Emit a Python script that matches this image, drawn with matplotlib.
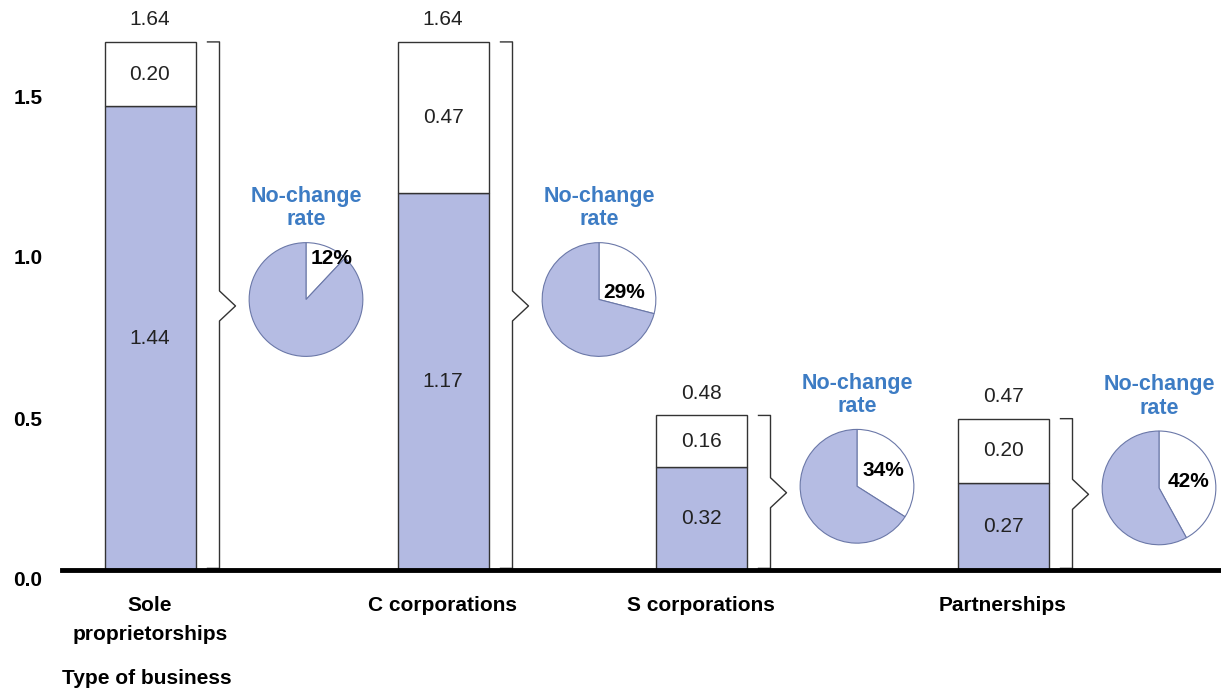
import numpy as np
import matplotlib.pyplot as plt
import matplotlib.transforms as mtransforms

plt.rcParams['font.family'] = ['Liberation Sans', 'DejaVu Sans']

# data
categories = ["Sole\nproprietorships", "C corporations", "S corporations", "Partnerships"]
base_vals = [1.44, 1.17, 0.32, 0.27]
top_vals = [0.20, 0.47, 0.16, 0.20]
totals = [1.64, 1.64, 0.48, 0.47]
no_change = [12, 29, 34, 42]

# layout (x in pixel-like units from axes left)
xpos = [88, 381, 639, 941]
bar_w = 91
pie_dx = 156
pie_r = 58
lbl_off = [(0.45, 0.72), (0.45, 0.12), (0.47, 0.28), (0.52, 0.12)]

bar_col = '#b3bae2'
pie_col = '#b5bce3'
blue_txt = '#3d7cc4'

fig = plt.figure(figsize=(12.21, 6.89), dpi=100)
ppu = 322.0  # pixels per unit on y
ax = fig.add_axes([62/1221, 119/689, 1159/1221, 1.75*ppu/689])
ax.set_xlim(0, 1159)
ax.set_ylim(0, 1.75)

ax.bar(xpos, base_vals, width=bar_w, color=bar_col, edgecolor='#333333', linewidth=1)
ax.bar(xpos, top_vals, width=bar_w, bottom=base_vals, color='white', edgecolor='#333333', linewidth=1)

for i in range(len(xpos)):
    x = xpos[i]
    ax.text(x, base_vals[i]/2, "%.2f" % base_vals[i], ha='center', va='center', fontsize=15, color='#222222')
    ax.text(x, base_vals[i] + top_vals[i]/2, "%.2f" % top_vals[i], ha='center', va='center', fontsize=15, color='#222222')
    ax.text(x, totals[i] + 0.04, "%.2f" % totals[i], ha='center', va='bottom', fontsize=15, color='#222222')

    # brace
    bx = x + bar_w/2 + 24
    mid = totals[i]/2
    h = 15/ppu
    ax.plot([bx-12, bx, bx, bx+16, bx, bx, bx-12],
            [totals[i], totals[i], mid+h, mid, mid-h, 0.005, 0.005],
            color='#333333', lw=1)

    # pie
    cx = x + pie_dx
    cy = mid + 0.02
    pax = ax.inset_axes([cx - pie_r, cy - pie_r/ppu, 2*pie_r, 2*pie_r/ppu], transform=ax.transData)
    pax.pie([no_change[i], 100 - no_change[i]], colors=['white', pie_col], startangle=90,
            counterclock=False, radius=1,
            wedgeprops=dict(edgecolor='#6b78a8', linewidth=0.8))
    pax.set_xlim(-1.02, 1.02)
    pax.set_ylim(-1.02, 1.02)
    pax.set_aspect('auto')
    pax.axis('off')
    pax.text(lbl_off[i][0], lbl_off[i][1], "%d%%" % no_change[i], ha='center', va='center',
             fontsize=15, fontweight='bold', color='black')
    ax.text(cx, cy + pie_r/ppu + 0.035, "No-change\nrate", ha='center', va='bottom',
            fontsize=15.5, fontweight='bold', color=blue_txt, linespacing=1.15)

# axis styling
for s in ['top', 'right', 'left', 'bottom']:
    ax.spines[s].set_visible(False)
ax.axhline(0, color='black', lw=3.5, clip_on=False)
ax.set_xticks([])
ax.set_yticks([0, 0.5, 1.0, 1.5])
ax.set_yticklabels(["0.0", "0.5", "1.0", "1.5"], fontweight='bold', fontsize=15)
ax.tick_params(axis='y', length=0, pad=14)
off = mtransforms.ScaledTranslation(0, -9/100, fig.dpi_scale_trans)
for t in ax.get_yticklabels():
    t.set_transform(t.get_transform() + off)

for i, c in enumerate(categories):
    ax.text(xpos[i], -26/ppu, c, ha='center', va='top', fontsize=15, fontweight='bold',
            linespacing=1.65)
ax.text(0, -108/ppu, "Type of business", ha='left', va='center', fontsize=15, fontweight='bold')

fig.savefig("out.png", dpi=100)
